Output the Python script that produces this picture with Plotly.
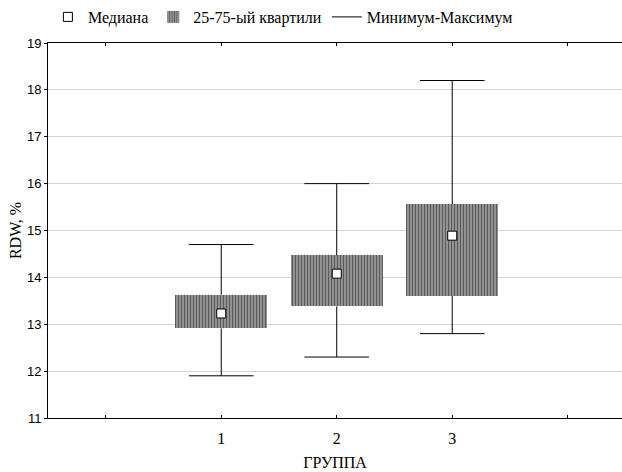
import plotly.graph_objects as go

groups = [1, 2, 3]
q1 = [12.91, 13.38, 13.60]
q3 = [13.63, 14.47, 15.56]
medians = [13.23, 14.08, 14.89]
mins = [11.90, 12.30, 12.80]
maxs = [14.70, 16.00, 18.20]

x_tickvals = [0, 1, 2, 3, 4]
x_ticktext = ["", "1", "2", "3", ""]
y_tickvals = [11, 12, 13, 14, 15, 16, 17, 18, 19]

serif = "Liberation Serif, Times New Roman, serif"
sans = "Liberation Sans, Arial, sans-serif"

box_width = 0.8
cap_half = 0.28

# whisker geometry built from data (stems stop at the box edges)
wx, wy = [], []
for g, lo, a, b, hi in zip(groups, mins, q1, q3, maxs):
    wx += [g, g, None, g, g, None,
           g - cap_half, g + cap_half, None, g - cap_half, g + cap_half, None]
    wy += [b, hi, None, lo, a, None, hi, hi, None, lo, lo, None]

fig = go.Figure()

fig.add_trace(go.Scatter(
    x=wx, y=wy, mode="lines", line=dict(color="black", width=1),
    name="Минимум-Максимум", legendrank=3, hoverinfo="skip"))

fig.add_trace(go.Bar(
    x=groups, y=[b - a for a, b in zip(q1, q3)], base=q1, width=box_width,
    marker=dict(color="#888888", line=dict(width=0),
                pattern=dict(shape="|", fgcolor="#5a5a5a", bgcolor="#a4a4a4",
                             size=3, solidity=0.5, fillmode="replace")),
    name="25-75-ый квартили", legendrank=2))

fig.add_trace(go.Scatter(
    x=groups, y=medians, mode="markers",
    marker=dict(symbol="square", size=9, color="white",
                line=dict(color="black", width=1)),
    name="Медиана", legendrank=1))

fig.update_layout(
    width=622, height=472,
    margin=dict(l=48, r=0, t=43, b=54, autoexpand=False),
    plot_bgcolor="white", paper_bgcolor="white",
    showlegend=True,
    legend=dict(orientation="h", xref="container", x=0.077, xanchor="left",
                yref="container", y=1.0, yanchor="top",
                font=dict(family=serif, size=16, color="black"),
                itemwidth=30, tracegroupgap=0, bgcolor="rgba(0,0,0,0)"),
    xaxis=dict(range=[-0.5, 4.47], tickvals=x_tickvals, ticktext=x_ticktext,
               automargin=False,
               showgrid=False, zeroline=False, showline=True, linecolor="black",
               linewidth=1, mirror="ticks", ticks="inside", ticklen=3,
               tickcolor="black", ticklabelstandoff=6,
               tickfont=dict(family=serif, size=16, color="black"),
               title=dict(text="ГРУППА", font=dict(family=serif, size=16, color="black"),
                          standoff=10)),
    yaxis=dict(range=[11, 19], tickvals=y_tickvals, automargin=False,
               showgrid=True, gridcolor="#d4d4d4", gridwidth=1, zeroline=False,
               showline=True, linecolor="black", linewidth=1, mirror="ticks",
               ticks="outside", ticklen=3, tickcolor="black",
               tickfont=dict(family=sans, size=13, color="black"),
               title=dict(text="RDW, %", font=dict(family=serif, size=16, color="black"),
                          standoff=1)),
    bargap=0,
)

fig.write_html("out.html", config={"displayModeBar": False},
               post_script="document.body.style.margin='0';document.body.style.overflow='hidden';")
